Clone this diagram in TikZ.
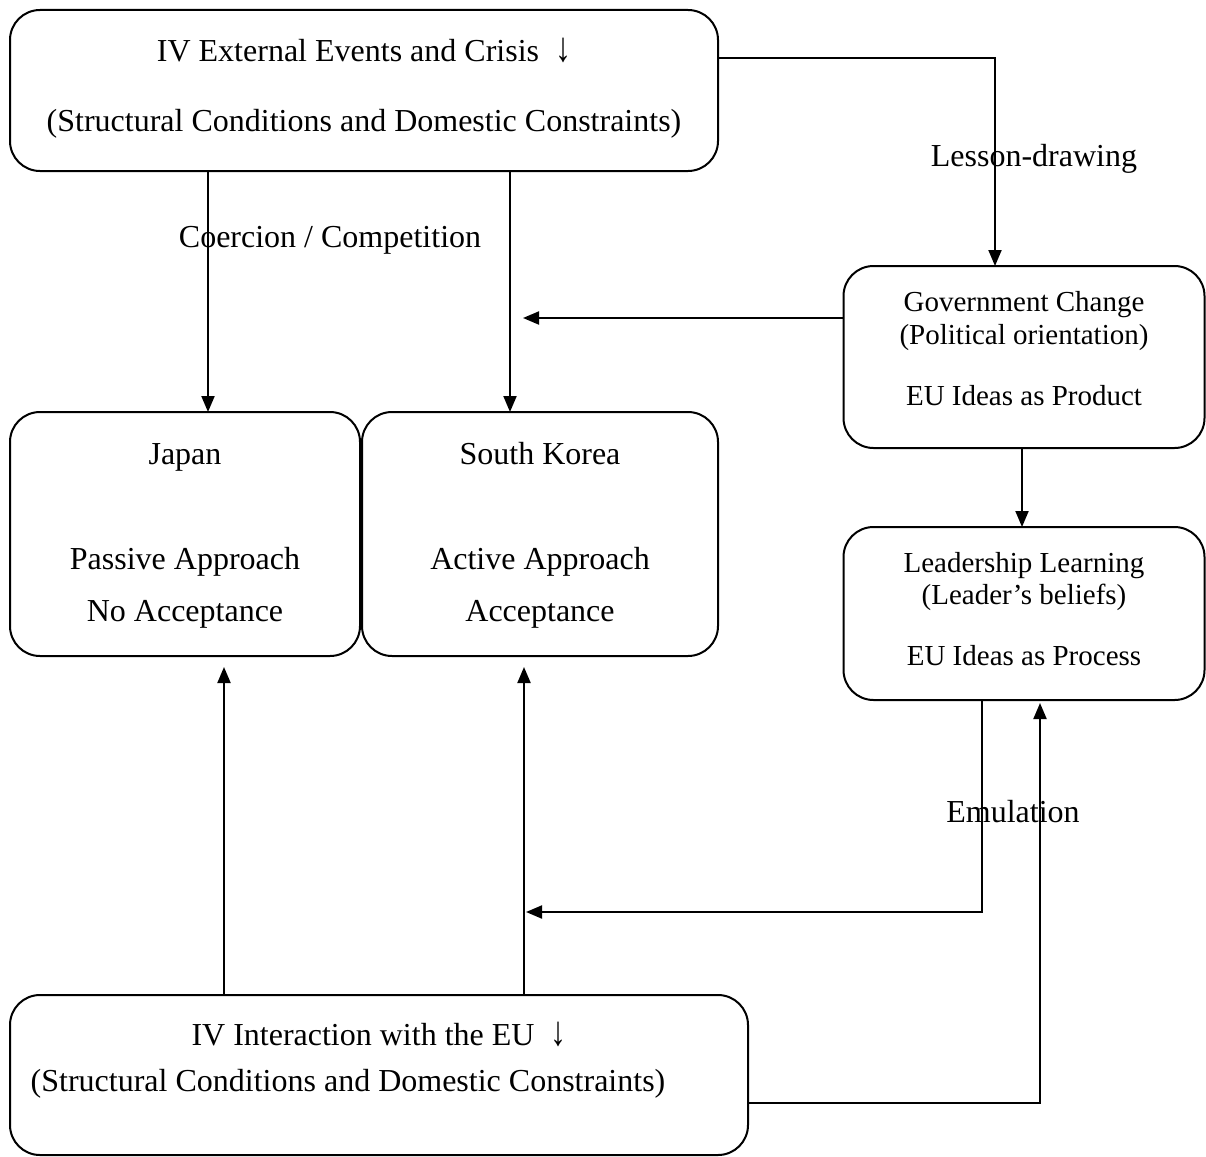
\documentclass[tikz,border=0pt]{standalone}
\usepackage{graphicx}
\usepackage{fontspec}
\setmainfont{Liberation Serif}
\usetikzlibrary{arrows.meta}
\newcommand{\dnarr}{\scalebox{1}[1.3]{↓}}
\begin{document}
\begin{tikzpicture}[x=1pt,y=-1pt,
  box/.style={draw,line width=2pt,rounded corners=30pt,outer sep=0pt,inner sep=0pt},
  arr/.style={line width=2pt,-{Triangle[length=16pt,width=13pt]}},
  big/.style={font=\fontsize{32}{36}\selectfont,anchor=base,inner sep=0pt},
  small/.style={font=\fontsize{29}{33}\selectfont,anchor=base,inner sep=0pt}]
\useasboundingbox (0,0) rectangle (1206,1156);
% boxes
\node[box,minimum width=708pt,minimum height=161pt] (top) at (364,90.5) {};
\node[box,minimum width=350pt,minimum height=244pt] (jp) at (185,534) {};
\node[box,minimum width=356pt,minimum height=244pt] (sk) at (540,534) {};
\node[box,minimum width=361pt,minimum height=182pt] (gov) at (1024,357) {};
\node[box,minimum width=361pt,minimum height=173pt] (lead) at (1024,613.5) {};
\node[box,minimum width=738pt,minimum height=160pt] (bot) at (379,1075) {};
% texts
\node[big] (t1) at (364,61) {IV External Events and Crisis~~\dnarr};
\node[big] (t2) at (364,131) {(Structural Conditions and Domestic Constraints)};
\node[big] (j1) at (185,464) {Japan};
\node[big] (j2) at (185,569) {Passive Approach};
\node[big] (j3) at (185,621) {No Acceptance};
\node[big] (s1) at (540,464) {South Korea};
\node[big] (s2) at (540,569) {Active Approach};
\node[big] (s3) at (540,621) {Acceptance};
\node[small] (g1) at (1024,311) {Government Change};
\node[small] (g2) at (1024,344) {(Political orientation)};
\node[small] (g3) at (1024,405) {EU Ideas as Product};
\node[small] (l1) at (1024,572) {Leadership Learning};
\node[small] (l2) at (1024,604) {(Leader’s beliefs)};
\node[small] (l3) at (1024,665) {EU Ideas as Process};
\node[big] (b1) at (379,1045) {IV Interaction with the EU~~\dnarr};
\node[big] (b2) at (348,1091) {(Structural Conditions and Domestic Constraints)};
% connector labels
\node[big] (lesson) at (1034,166) {Lesson-drawing};
\node[big] (coer) at (330,247) {Coercion / Competition};
\node[big] (emul) at (1013,822) {Emulation};
% helper coordinates
\coordinate (xa) at (208,0);
\coordinate (xb) at (510,0);
\coordinate (xc) at (995,0);
\coordinate (xd) at (1022,0);
\coordinate (xe) at (982,0);
\coordinate (xg) at (224,0);
\coordinate (xh) at (524,0);
\coordinate (y1) at (0,58);
\coordinate (y2) at (0,318);
\coordinate (y4) at (0,1103);
\coordinate (tip1) at (523,318);
\coordinate (tip2) at (526,912);
\coordinate (tip3) at (1040,703);
\coordinate (tipj) at (224,667);
\coordinate (tips) at (524,667);
% connectors
\draw[arr] (top.south -| xa) -- (jp.north -| xa);
\draw[arr] (top.south -| xb) -- (sk.north -| xb);
\draw[arr] (top.east |- y1) -| (gov.north -| xc);
\draw[arr] (gov.west |- y2) -- (tip1);
\draw[arr] (gov.south -| xd) -- (lead.north -| xd);
\draw[arr] (lead.south -| xe) |- (tip2);
\draw[arr] (bot.east |- y4) -| (tip3);
\draw[arr] (bot.north -| xg) -- (tipj);
\draw[arr] (bot.north -| xh) -- (tips);
\end{tikzpicture}
\end{document}
